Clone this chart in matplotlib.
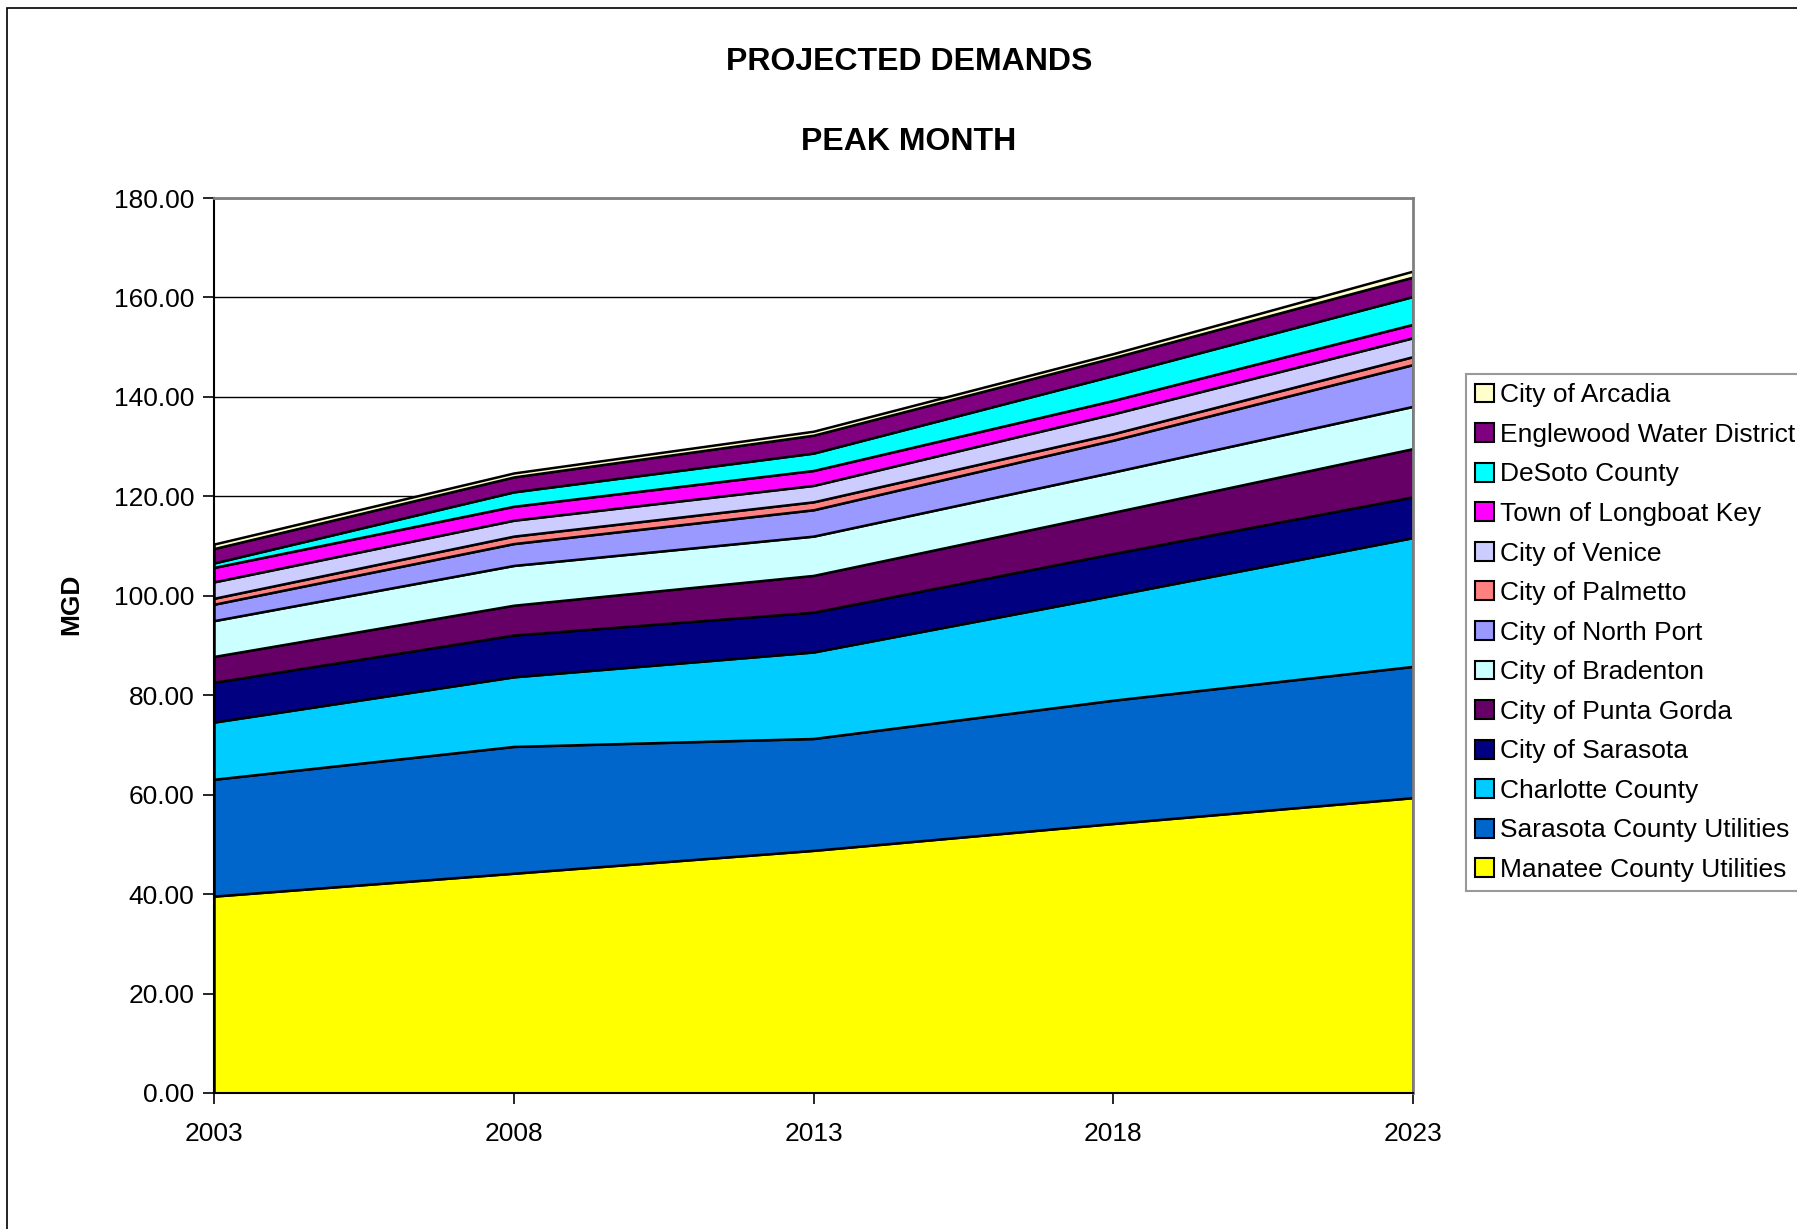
import matplotlib
matplotlib.use('Agg')
import matplotlib.pyplot as plt
from matplotlib.patches import Rectangle

plt.rcParams['font.family'] = ['Liberation Sans', 'DejaVu Sans']

# Daten (MGD, gestapelt von unten nach oben)
years = [2003, 2008, 2013, 2018, 2023]

manatee = [39.6, 44.2, 48.8, 54.2, 59.4]
sarasota_county = [23.5, 25.5, 22.5, 24.8, 26.4]
charlotte = [11.5, 14.0, 17.4, 21.1, 25.9]
city_sarasota = [8.0, 8.4, 8.0, 8.4, 8.2]
punta_gorda = [5.2, 6.0, 7.4, 8.3, 9.7]
bradenton = [7.2, 8.0, 7.9, 8.1, 8.5]
north_port = [3.3, 4.4, 5.3, 6.4, 8.4]
palmetto = [1.2, 1.5, 1.6, 1.3, 1.6]
venice = [3.3, 3.2, 3.3, 4.0, 3.8]
longboat = [2.9, 2.8, 3.0, 2.7, 2.7]
desoto = [0.9, 2.9, 3.5, 5.0, 5.6]
englewood = [2.9, 3.0, 3.6, 3.6, 3.9]
arcadia = [0.9, 0.8, 0.8, 0.8, 1.2]

series = [manatee, sarasota_county, charlotte, city_sarasota, punta_gorda,
          bradenton, north_port, palmetto, venice, longboat, desoto,
          englewood, arcadia]
labels = ['Manatee County Utilities', 'Sarasota County Utilities',
          'Charlotte County', 'City of Sarasota', 'City of Punta Gorda',
          'City of Bradenton', 'City of North Port', 'City of Palmetto',
          'City of Venice', 'Town of Longboat Key', 'DeSoto County',
          'Englewood Water District', 'City of Arcadia']
colors = ['#FFFF00', '#0066CC', '#00CCFF', '#000080', '#660066',
          '#CCFFFF', '#9999FF', '#FF8080', '#CCCCFF', '#FF00FF',
          '#00FFFF', '#800080', '#FFFFCC']

fig = plt.figure(figsize=(17.97, 12.29), dpi=100)
fig.patches.append(Rectangle((7 / 1797, -0.1), 1.2, 1 - 8 / 1229 + 0.1,
                             transform=fig.transFigure, fill=False,
                             edgecolor='black', linewidth=1.2))

ax = fig.add_axes([214 / 1797, 1 - 1093 / 1229, 1199 / 1797, 895 / 1229])
polys = ax.stackplot(years, *series, labels=labels, colors=colors,
                     edgecolor='black', linewidth=1.8)

ax.set_xlim(2003, 2023)
ax.set_ylim(0, 180)
ax.set_xticks(years)
ax.set_yticks(range(0, 181, 20))
ax.set_yticklabels([f'{v:.2f}' for v in range(0, 181, 20)])
ax.tick_params(labelsize=19, length=8, width=1.2, direction='out', colors='black')
ax.tick_params(axis='x', pad=13)
ax.tick_params(axis='y', pad=6)
ax.set_axisbelow(True)
ax.grid(axis='y', color='black', linewidth=1.0)

ax.spines['left'].set_linewidth(1.5)
ax.spines['bottom'].set_linewidth(1.5)
ax.spines['top'].set_color('#808080')
ax.spines['right'].set_color('#808080')
ax.spines['top'].set_linewidth(2)
ax.spines['right'].set_linewidth(2)

fig.text(909 / 1797, 1 - 62 / 1229, 'PROJECTED DEMANDS', ha='center', va='center',
         fontsize=23, fontweight='bold')
fig.text(909 / 1797, 1 - 142 / 1229, 'PEAK MONTH', ha='center', va='center',
         fontsize=23, fontweight='bold')
fig.text(71 / 1797, 1 - 604 / 1229, 'MGD', ha='center', va='center', rotation=90,
         fontsize=19, fontweight='bold')

handles = polys[::-1]
leg = fig.legend(handles, labels[::-1], loc='upper left',
                 bbox_to_anchor=(1466 / 1797, 1 - 374 / 1229),
                 fontsize=19, frameon=True, fancybox=False,
                 handlelength=0.72, handleheight=0.72, handletextpad=0.22,
                 labelspacing=0.59, borderpad=0.35, borderaxespad=0)
leg.get_frame().set_edgecolor('#808080')
leg.get_frame().set_linewidth(1.5)
for h in leg.legend_handles:
    h.set_linewidth(1.5)

fig.savefig('out.png', dpi=100)
